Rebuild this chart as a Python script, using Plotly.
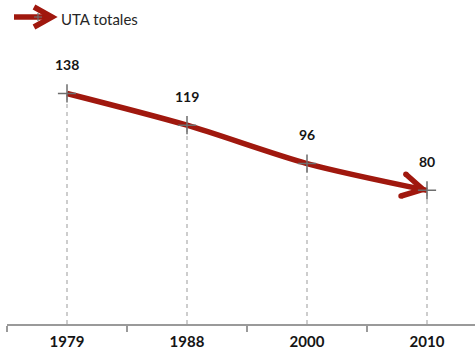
import math
import plotly.graph_objects as go

# Data
years = ["1979", "1988", "2000", "2010"]
uta_totales = [138, 119, 96, 80]
series_name = "UTA totales"

# Styling
RED = "#A0180E"
MARK_GREY = "#6E6E6E"
DASH_GREY = "#BDBDBD"
AXIS_GREY = "#9A9A9A"
TEXT = "#151515"
FONT = "Lato"

W, H = 475, 354
M = dict(l=7, r=0, t=40, b=30)
X_RANGE = [-0.5, 3.4]
Y_RANGE = [0, 170]
plot_w = W - M["l"] - M["r"]
plot_h = H - M["t"] - M["b"]
px_x = plot_w / (X_RANGE[1] - X_RANGE[0])
px_y = plot_h / (Y_RANGE[1] - Y_RANGE[0])

xs = list(range(len(years)))

fig = go.Figure()

# Dashed drop lines from each point to the axis
drop_x, drop_y = [], []
for x, v in zip(xs, uta_totales):
    drop_x += [x, x, None]
    drop_y += [0, v, None]
fig.add_trace(go.Scatter(
    x=drop_x, y=drop_y, mode="lines",
    line=dict(color=DASH_GREY, width=1.5, dash="4px,4px"),
    hoverinfo="skip", showlegend=False,
))

# Main smoothed series
fig.add_trace(go.Scatter(
    x=xs, y=uta_totales, mode="lines", name=series_name,
    line=dict(color=RED, width=5.5, shape="spline", smoothing=0.8),
    showlegend=False,
))

# Open arrowhead at the final point, oriented along the last segment (pixel space)
dx = (xs[-1] - xs[-2]) * px_x
dy = -(uta_totales[-1] - uta_totales[-2]) * px_y
norm = math.hypot(dx, dy)
bx, by = -dx / norm, -dy / norm
# pull the vertex back a little so the mitred point lands on the data point
tip_x = xs[-1] + bx * 4 / px_x
tip_y = uta_totales[-1] - by * 4 / px_y
arm_len, half_angle = 23, math.radians(29)
head_x, head_y = [], []
for sgn in (1, -1):
    a = sgn * half_angle
    rx = bx * math.cos(a) - by * math.sin(a)
    ry = bx * math.sin(a) + by * math.cos(a)
    head_x.append(tip_x + rx * arm_len / px_x)
    head_y.append(tip_y - ry * arm_len / px_y)
fig.add_trace(go.Scatter(
    x=[head_x[0], tip_x, head_x[1]], y=[head_y[0], tip_y, head_y[1]],
    mode="lines", line=dict(color=RED, width=5.5),
    hoverinfo="skip", showlegend=False,
))
# rounded ends on the arrowhead arms
fig.add_trace(go.Scatter(
    x=head_x, y=head_y, mode="markers",
    marker=dict(symbol="circle", size=5.5, color=RED, line=dict(width=0)),
    hoverinfo="skip", showlegend=False,
))

# Cross markers on top of the line
fig.add_trace(go.Scatter(
    x=xs, y=uta_totales, mode="markers",
    marker=dict(symbol="cross-thin-open", size=13, color=MARK_GREY,
                line=dict(color=MARK_GREY, width=1.5)),
    hoverinfo="skip", showlegend=False,
))

# Value labels
for x, v in zip(xs, uta_totales):
    fig.add_annotation(
        x=x, y=v, text=str(v), showarrow=False, yshift=29,
        font=dict(family=FONT, size=14, color=TEXT, weight="bold"),
    )


def paper(px, py):
    return (px - M["l"]) / plot_w, (H - M["b"] - py) / plot_h


# Legend entry drawn by hand: arrow glyph with a cross, then the label
lx0, ly = paper(14, 17)
lx1, _ = paper(52, 17)
fig.add_shape(type="line", xref="paper", yref="paper",
              x0=lx0, y0=ly, x1=lx1, y1=ly,
              line=dict(color=RED, width=5.5))
ax0, ay0 = paper(34, 7)
atx, aty = paper(52, 17)
ax1, ay1 = paper(34, 27)
fig.add_shape(type="path", xref="paper", yref="paper",
              path=f"M{ax0},{ay0} L{atx},{aty} L{ax1},{ay1}",
              line=dict(color=RED, width=5.5))
cx0, cy0 = paper(34, 17)
cx1, _ = paper(42, 17)
cxm, _ = paper(38, 17)
_, cyt = paper(38, 13)
_, cyb = paper(38, 21)
fig.add_shape(type="line", xref="paper", yref="paper",
              x0=cx0, y0=cy0, x1=cx1, y1=cy0,
              line=dict(color=MARK_GREY, width=1.2))
fig.add_shape(type="line", xref="paper", yref="paper",
              x0=cxm, y0=cyt, x1=cxm, y1=cyb,
              line=dict(color=MARK_GREY, width=1.2))
tx, ty = paper(59, 19)
fig.add_annotation(
    x=tx, y=ty, xref="paper", yref="paper", text=series_name,
    showarrow=False, xanchor="left", yanchor="middle",
    font=dict(family=FONT, size=15, color="#262626"),
)

fig.update_xaxes(
    range=X_RANGE, showgrid=False, zeroline=False,
    showline=True, linecolor=AXIS_GREY, linewidth=1.5,
    tickmode="array", tickvals=xs, ticktext=years, ticks="",
    tickfont=dict(family=FONT, size=15, color=TEXT, weight="bold"),
    ticklabelstandoff=3,
    minor=dict(tickmode="array",
               tickvals=[x - 0.5 for x in xs] + [xs[-1] + 0.5],
               ticks="outside", ticklen=6, tickwidth=1.5,
               tickcolor=AXIS_GREY, showgrid=False),
)
fig.update_yaxes(range=Y_RANGE, visible=False)

fig.update_layout(
    width=W, height=H, margin=M,
    plot_bgcolor="white", paper_bgcolor="white",
    showlegend=False,
    font=dict(family=FONT),
)

fig.write_html("out.html")
